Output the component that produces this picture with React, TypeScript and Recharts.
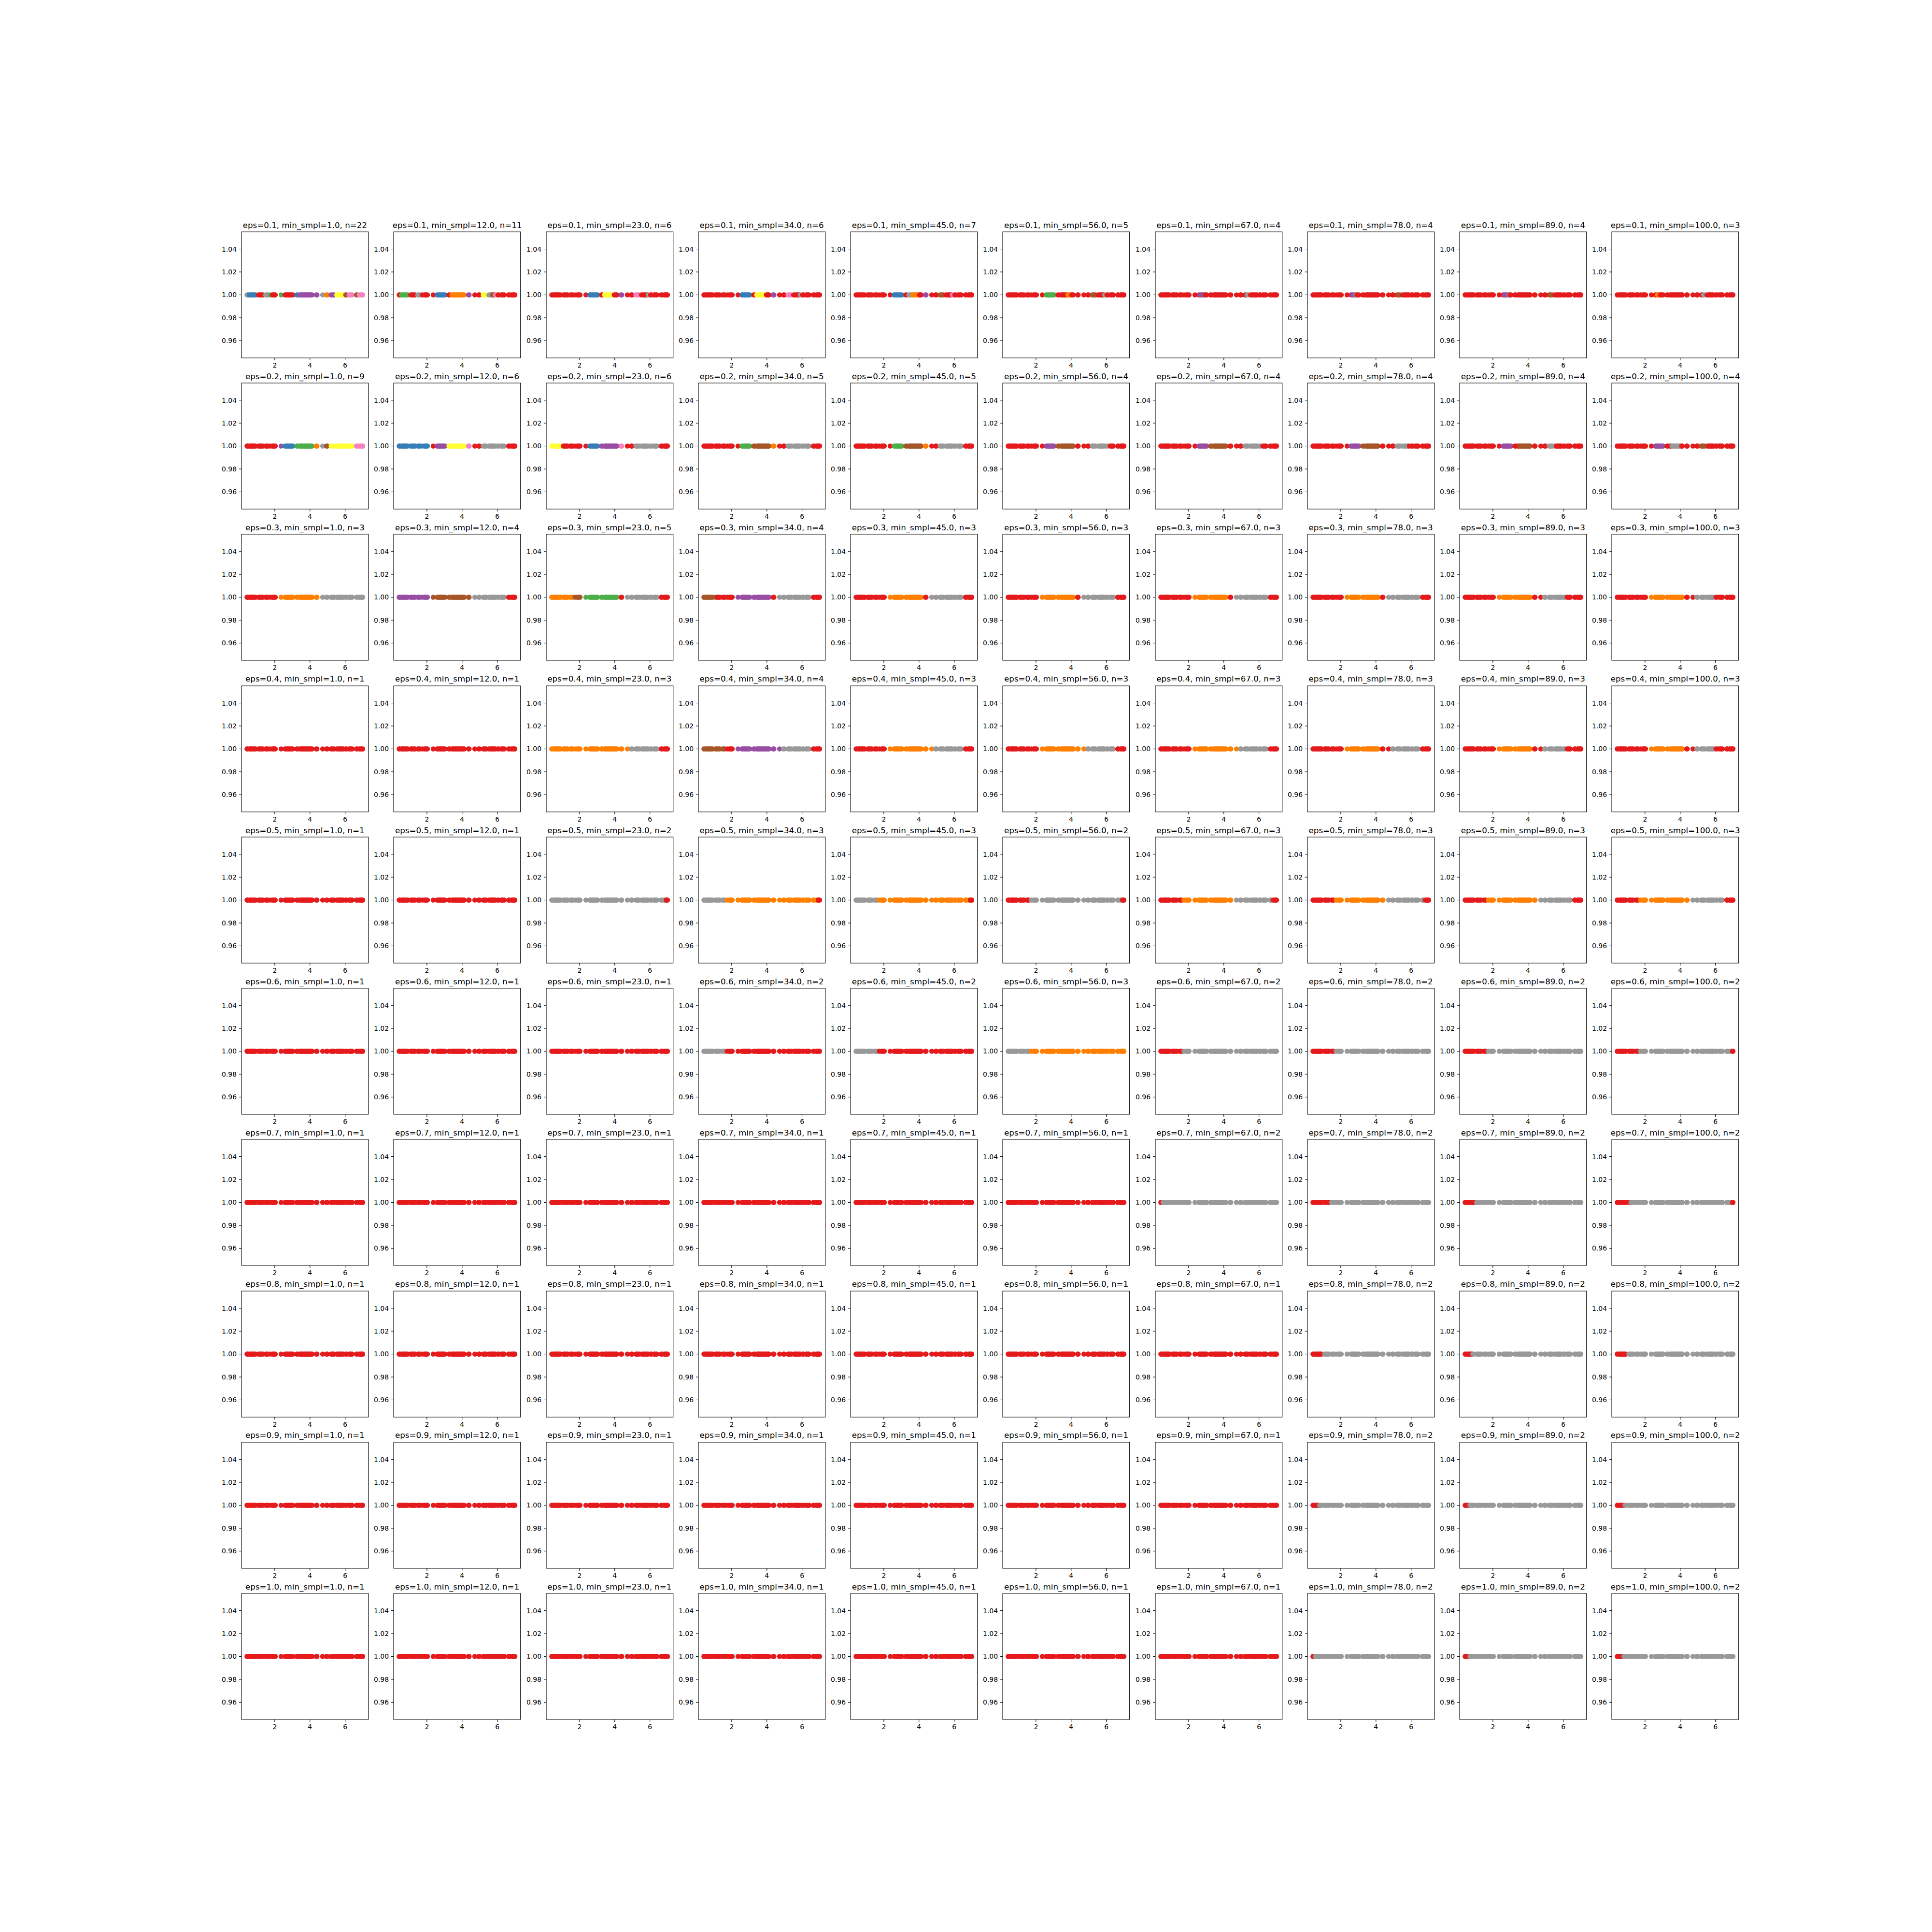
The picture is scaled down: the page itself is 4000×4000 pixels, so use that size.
import React from 'react';
import { ScatterChart, Scatter, XAxis, YAxis, ReferenceArea } from 'recharts';

// Set1 colours used by the cluster labels
const SET1: Record<string, string> = {
  r: '#e41a1c',
  b: '#377eb8',
  g: '#4daf4a',
  p: '#984ea3',
  o: '#ff7f00',
  y: '#ffff33',
  n: '#a65628',
  k: '#f781bf',
  a: '#999999',
};

const EPS = ['0.1', '0.2', '0.3', '0.4', '0.5', '0.6', '0.7', '0.8', '0.9', '1.0'];
const MIN_SAMPLES = ['1.0', '12.0', '23.0', '34.0', '45.0', '56.0', '67.0', '78.0', '89.0', '100.0'];
const N_CLUSTERS = [
  [22, 11, 6, 6, 7, 5, 4, 4, 4, 3],
  [9, 6, 6, 5, 5, 4, 4, 4, 4, 4],
  [3, 4, 5, 4, 3, 3, 3, 3, 3, 3],
  [1, 1, 3, 4, 3, 3, 3, 3, 3, 3],
  [1, 1, 2, 3, 3, 2, 3, 3, 3, 3],
  [1, 1, 1, 2, 2, 3, 2, 2, 2, 2],
  [1, 1, 1, 1, 1, 1, 2, 2, 2, 2],
  [1, 1, 1, 1, 1, 1, 1, 2, 2, 2],
  [1, 1, 1, 1, 1, 1, 1, 2, 2, 2],
  [1, 1, 1, 1, 1, 1, 1, 2, 2, 2],
];

// the 1-D sample positions (all drawn at y = 1)
const POINT_X = [
  0.42, 0.45,
  0.55, 0.6, 0.64, 0.7, 0.75, 0.8, 0.86, 0.92,
  1.08, 1.14, 1.2, 1.27, 1.33,
  1.48, 1.55, 1.61,
  1.74,
  1.86, 1.92, 1.98, 2.03,
  2.36,
  2.58, 2.64, 2.7, 2.75, 2.8, 2.86, 2.92, 2.97, 3.03,
  3.25, 3.3,
  3.42, 3.48, 3.53, 3.58, 3.64, 3.7, 3.75, 3.81, 3.86, 3.92, 3.97, 4.03, 4.08, 4.12,
  4.36, 4.4,
  4.72,
  4.94, 4.99,
  5.2, 5.25, 5.32, 5.38,
  5.52, 5.6, 5.66, 5.72, 5.78, 5.84, 5.9,
  6.03, 6.08,
  6.22, 6.28, 6.34, 6.4,
  6.64, 6.68,
  6.8, 6.86, 6.92, 6.97, 7.0,
];

type Seg = [number, string];

// colour runs along x: [start x, colour key]
const RED: Seg[] = [[0, 'r']];

const EPS01_SEGS: Seg[][] = [
  [[0, 'a'], [0.5, 'b'], [1.0, 'r'], [1.45, 'a'], [1.7, 'g'], [1.8, 'r'], [2.2, 'g'], [2.5, 'r'], [3.15, 'b'], [3.4, 'p'], [4.6, 'a'], [4.85, 'o'], [5.1, 'p'], [5.45, 'y'], [6.0, 'n'], [6.15, 'k'], [6.5, 'n'], [6.75, 'k']],
  [[0, 'r'], [0.5, 'g'], [1.0, 'r'], [1.45, 'a'], [1.7, 'r'], [2.5, 'b'], [3.15, 'r'], [3.38, 'o'], [4.25, 'p'], [4.6, 'r'], [5.1, 'y'], [5.45, 'a'], [5.7, 'n'], [5.86, 'k'], [6.0, 'r']],
  [[0, 'r'], [2.5, 'b'], [3.15, 'r'], [3.38, 'y'], [3.95, 'r'], [4.25, 'p'], [4.55, 'r'], [5.1, 'k'], [5.45, 'r'], [5.87, 'a'], [5.95, 'r']],
  [[0, 'r'], [2.5, 'b'], [3.15, 'r'], [3.38, 'y'], [3.95, 'r'], [4.25, 'p'], [4.55, 'r'], [5.1, 'k'], [5.45, 'r'], [5.87, 'a'], [5.95, 'r']],
  [[0, 'r'], [2.5, 'b'], [3.15, 'r'], [3.38, 'a'], [3.61, 'o'], [4.0, 'r'], [4.25, 'p'], [4.55, 'r'], [5.1, 'n'], [5.45, 'r'], [5.87, 'k'], [5.95, 'r']],
  [[0, 'r'], [2.5, 'g'], [3.15, 'r'], [3.78, 'o'], [4.0, 'r'], [5.1, 'n'], [5.45, 'r'], [5.87, 'a'], [5.95, 'r']],
  [[0, 'r'], [2.62, 'p'], [2.9, 'n'], [2.95, 'r'], [5.3, 'a'], [5.42, 'r']],
  [[0, 'r'], [2.6, 'p'], [2.84, 'a'], [2.9, 'r'], [5.22, 'n'], [5.42, 'r']],
  [[0, 'r'], [2.6, 'p'], [2.9, 'a'], [2.95, 'r'], [5.22, 'n'], [5.42, 'r']],
  [[0, 'r'], [2.67, 'o'], [2.84, 'r'], [5.3, 'a'], [5.42, 'r']],
];

const EPS02_SEGS: Seg[][] = [
  [[0, 'r'], [2.2, 'p'], [2.5, 'b'], [3.15, 'g'], [4.25, 'o'], [4.6, 'a'], [4.85, 'n'], [5.1, 'y'], [6.5, 'k']],
  [[0, 'b'], [2.2, 'r'], [2.5, 'p'], [3.15, 'y'], [4.25, 'k'], [4.6, 'r'], [5.1, 'a'], [6.5, 'r']],
  [[0, 'y'], [1.0, 'r'], [2.5, 'b'], [3.15, 'p'], [4.25, 'k'], [4.6, 'r'], [5.1, 'a'], [6.5, 'r']],
  [[0, 'r'], [2.5, 'g'], [3.15, 'n'], [4.25, 'o'], [4.6, 'r'], [5.1, 'a'], [6.5, 'r']],
  [[0, 'r'], [2.5, 'g'], [3.15, 'n'], [4.25, 'o'], [4.6, 'r'], [5.1, 'a'], [6.5, 'r']],
  [[0, 'r'], [2.5, 'p'], [3.15, 'n'], [4.25, 'r'], [5.1, 'a'], [6.15, 'r']],
  [[0, 'r'], [2.5, 'p'], [3.15, 'n'], [4.25, 'r'], [5.1, 'a'], [6.15, 'r']],
  [[0, 'r'], [2.5, 'p'], [3.15, 'n'], [4.25, 'r'], [5.1, 'a'], [5.87, 'r']],
  [[0, 'r'], [2.5, 'p'], [3.15, 'r'], [3.5, 'n'], [4.15, 'r'], [5.1, 'a'], [5.6, 'r']],
  [[0, 'r'], [2.5, 'p'], [3.15, 'r'], [3.5, 'a'], [4.05, 'r'], [5.15, 'n'], [5.55, 'r']],
];

const EPS03_SEGS: Seg[][] = [
  [[0, 'r'], [2.2, 'o'], [4.55, 'a']],
  [[0, 'p'], [2.2, 'n'], [4.55, 'a'], [6.5, 'r']],
  [[0, 'o'], [1.7, 'n'], [2.2, 'g'], [4.25, 'r'], [4.55, 'a'], [6.5, 'r']],
  [[0, 'n'], [1.17, 'r'], [2.2, 'p'], [4.25, 'r'], [4.55, 'a'], [6.5, 'r']],
  [[0, 'r'], [2.2, 'o'], [4.25, 'r'], [4.55, 'a'], [6.5, 'r']],
  [[0, 'r'], [2.2, 'o'], [4.25, 'r'], [4.55, 'a'], [6.5, 'r']],
  [[0, 'r'], [2.2, 'o'], [4.25, 'r'], [4.55, 'a'], [6.5, 'r']],
  [[0, 'r'], [2.2, 'o'], [4.25, 'r'], [4.55, 'a'], [6.5, 'r']],
  [[0, 'r'], [2.2, 'o'], [4.25, 'r'], [4.85, 'a'], [6.15, 'r']],
  [[0, 'r'], [2.2, 'o'], [4.25, 'r'], [4.85, 'a'], [6.0, 'r']],
];

const EPS04_SEGS: Seg[][] = [
  RED,
  RED,
  [[0, 'o'], [4.85, 'a'], [6.5, 'r']],
  [[0, 'n'], [1.67, 'r'], [2.2, 'p'], [4.85, 'a'], [6.5, 'r']],
  [[0, 'r'], [2.2, 'o'], [4.85, 'a'], [6.5, 'r']],
  [[0, 'r'], [2.2, 'o'], [4.85, 'a'], [6.5, 'r']],
  [[0, 'r'], [2.2, 'o'], [4.85, 'a'], [6.5, 'r']],
  [[0, 'r'], [2.2, 'o'], [4.25, 'r'], [4.85, 'a'], [6.5, 'r']],
  [[0, 'r'], [2.2, 'o'], [4.25, 'r'], [4.85, 'a'], [6.15, 'r']],
  [[0, 'r'], [2.2, 'o'], [4.25, 'r'], [4.85, 'a'], [6.0, 'r']],
];

const EPS05_SEGS: Seg[][] = [
  RED,
  RED,
  [[0, 'a'], [6.9, 'r']],
  [[0, 'a'], [1.67, 'o'], [6.9, 'r']],
  [[0, 'a'], [1.67, 'o'], [6.9, 'r']],
  [[0, 'r'], [1.67, 'a'], [6.9, 'r']],
  [[0, 'r'], [1.67, 'o'], [4.55, 'a'], [6.75, 'r']],
  [[0, 'r'], [1.67, 'o'], [4.55, 'a'], [6.75, 'r']],
  [[0, 'r'], [1.67, 'o'], [4.55, 'a'], [6.5, 'r']],
  [[0, 'r'], [1.67, 'o'], [4.55, 'a'], [6.5, 'r']],
];

const EPS06_SEGS: Seg[][] = [
  RED,
  RED,
  RED,
  [[0, 'a'], [1.67, 'r']],
  [[0, 'a'], [1.67, 'r']],
  [[0, 'a'], [1.67, 'o']],
  [[0, 'r'], [1.67, 'a']],
  [[0, 'r'], [1.67, 'a']],
  [[0, 'r'], [1.67, 'a']],
  [[0, 'r'], [1.67, 'a'], [6.95, 'r']],
];

const EPS07_SEGS: Seg[][] = [
  RED, RED, RED, RED, RED, RED,
  [[0, 'r'], [0.5, 'a']],
  [[0, 'r'], [1.4, 'a']],
  [[0, 'r'], [1.0, 'a']],
  [[0, 'r'], [1.17, 'a'], [6.95, 'r']],
];

const EPS08_SEGS: Seg[][] = [
  RED, RED, RED, RED, RED, RED, RED,
  [[0, 'r'], [0.97, 'a']],
  [[0, 'r'], [0.83, 'a']],
  [[0, 'r'], [0.97, 'a']],
];

const EPS09_SEGS: Seg[][] = [
  RED, RED, RED, RED, RED, RED, RED,
  [[0, 'r'], [0.77, 'a']],
  [[0, 'r'], [0.67, 'a']],
  [[0, 'r'], [0.83, 'a']],
];

const EPS10_SEGS: Seg[][] = [
  RED, RED, RED, RED, RED, RED, RED,
  [[0, 'r'], [0.5, 'a']],
  [[0, 'r'], [0.67, 'a']],
  [[0, 'r'], [0.77, 'a']],
];

const SEGMENTS = [
  EPS01_SEGS, EPS02_SEGS, EPS03_SEGS, EPS04_SEGS, EPS05_SEGS,
  EPS06_SEGS, EPS07_SEGS, EPS08_SEGS, EPS09_SEGS, EPS10_SEGS,
];

const X_TICKS = [2, 4, 6];
const Y_TICKS = [0.96, 0.98, 1.0, 1.02, 1.04];
const X_DOMAIN: [number, number] = [0.11, 7.32];
const Y_DOMAIN: [number, number] = [0.945, 1.055];

// matplotlib default subplot grid on a 4000px figure
const LEFT = 500;
const TOP = 480;
const AX_W = 3100 / 11.8;
const AX_H = 3080 / 11.8;
const STEP_X = AX_W * 1.2;
const STEP_Y = AX_H * 1.2;

const Y_W = 50;
const M_TOP = 4;
const M_RIGHT = 4;
const X_H = 30;
const M_BOTTOM = 4;

const FONT = '"DejaVu Sans", sans-serif';

function colorAt(x: number, segs: Seg[]) {
  let key = segs[0][1];
  for (const [start, k] of segs) if (x >= start) key = k;
  return SET1[key];
}

function Dot(props: any) {
  const { cx, cy, payload } = props;
  if (cx == null || cy == null) return null;
  return <circle cx={cx} cy={cy} r={5.2} fill={payload.color} />;
}

function Panel({ row, col }: { row: number; col: number }) {
  const segs = SEGMENTS[row][col];
  const data = POINT_X.map((x) => ({ x, y: 1, color: colorAt(x, segs) }));
  const left = LEFT + col * STEP_X - Y_W;
  const top = TOP + row * STEP_Y - M_TOP;
  return (
    <div style={{ position: 'absolute', left, top }}>
      <ScatterChart
        width={Y_W + AX_W + M_RIGHT}
        height={M_TOP + AX_H + X_H + M_BOTTOM}
        margin={{ top: M_TOP, right: M_RIGHT, bottom: M_BOTTOM, left: 0 }}
      >
        <XAxis
          dataKey="x"
          type="number"
          domain={X_DOMAIN}
          ticks={X_TICKS}
          allowDataOverflow
          height={X_H}
          axisLine={false}
          tickSize={5}
          tickMargin={5}
          tickLine={{ stroke: '#000', strokeWidth: 1.1 }}
          tick={{ fontSize: 13.9, fill: '#000' }}
        />
        <YAxis
          dataKey="y"
          type="number"
          domain={Y_DOMAIN}
          ticks={Y_TICKS}
          allowDataOverflow
          width={Y_W}
          axisLine={false}
          tickSize={5}
          tickMargin={5}
          tickLine={{ stroke: '#000', strokeWidth: 1.1 }}
          tick={{ fontSize: 13.9, fill: '#000' }}
          tickFormatter={(v: number) => v.toFixed(2)}
        />
        <Scatter data={data} shape={<Dot />} isAnimationActive={false} />
        <ReferenceArea
          x1={X_DOMAIN[0]}
          x2={X_DOMAIN[1]}
          y1={Y_DOMAIN[0]}
          y2={Y_DOMAIN[1]}
          fill="none"
          fillOpacity={0}
          stroke="#000"
          strokeWidth={1.1}
          ifOverflow="visible"
        />
      </ScatterChart>
    </div>
  );
}

export default function App() {
  const rows = EPS.map((_, r) => r);
  const cols = MIN_SAMPLES.map((_, c) => c);
  return (
    <div
      style={{
        position: 'absolute',
        left: 0,
        top: 0,
        width: 4000,
        height: 4000,
        background: '#fff',
        fontFamily: FONT,
      }}
    >
      {rows.map((r) => cols.map((c) => <Panel key={`${r}-${c}`} row={r} col={c} />))}
      <svg
        width={4000}
        height={4000}
        style={{ position: 'absolute', left: 0, top: 0, pointerEvents: 'none' }}
      >
        {rows.map((r) =>
          cols.map((c) => (
            <text
              key={`t-${r}-${c}`}
              x={LEFT + c * STEP_X + AX_W / 2}
              y={TOP + r * STEP_Y - 8.3}
              textAnchor="middle"
              fontSize={16.67}
              fontFamily={FONT}
              fill="#000"
            >
              {`eps=${EPS[r]}, min_smpl=${MIN_SAMPLES[c]}, n=${N_CLUSTERS[r][c]}`}
            </text>
          ))
        )}
      </svg>
    </div>
  );
}
